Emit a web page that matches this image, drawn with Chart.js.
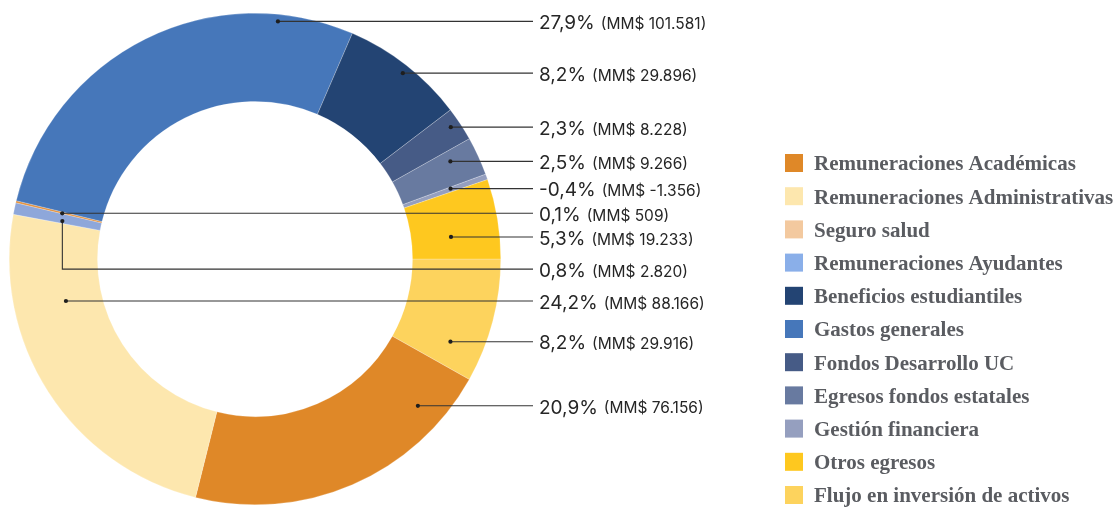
<!DOCTYPE html>
<html>
<head>
<meta charset="utf-8">
<script src="https://cdn.jsdelivr.net/npm/chart.js@4.4.1/dist/chart.umd.min.js"></script>
<style>
    html, body { margin: 0; padding: 0; background: #ffffff; }
    #wrap { position: relative; width: 1116px; height: 510px; }
</style>
</head>
<body>
<div id="wrap"><canvas id="egresos"></canvas></div>
<script>
// Egresos por categoría (MM$), in legend order
const categories = [
    "Remuneraciones Académicas",
    "Remuneraciones Administrativas",
    "Seguro salud",
    "Remuneraciones Ayudantes",
    "Beneficios estudiantiles",
    "Gastos generales",
    "Fondos Desarrollo UC",
    "Egresos fondos estatales",
    "Gestión financiera",
    "Otros egresos",
    "Flujo en inversión de activos"
];
const amounts = [76156, 88166, 509, 2820, 29896, 101581, 8228, 9266, -1356, 19233, 29916];
const shares = [20.9, 24.2, 0.1, 0.8, 8.2, 27.9, 2.3, 2.5, -0.4, 5.3, 8.2];

// slices go clockwise from 3 o'clock in this order
const ringOrder = [10, 0, 1, 3, 2, 5, 4, 6, 7, 8, 9];

const legendColors = ['#df8828', '#fde7ae', '#f3c99f', '#8aafe9', '#234473', '#4677ba',
                      '#465b86', '#687aa0', '#959fbf', '#fec81f', '#fdd35d'];
const sliceColors = ['#df8828', '#fde7ae', '#e3913e', '#8ea7da', '#234473', '#4677ba',
                     '#465b86', '#687aa0', '#959fbf', '#fec81f', '#fdd35d'];

// where each leader line starts inside its slice
// t: fraction along the arc, r: fraction across the ring, drop: elbow down before going right
const anchors = [
    { t: 0.17, r: 0.70 },
    { t: 0.734, r: 0.41 },
    { t: 0.2, r: 0.46 },
    { t: 0.24, r: 0.44, drop: 48 },
    { t: 0.517, r: 0.906 },
    { t: 0.821, r: 0.92 },
    { t: 0.42, r: 0.89 },
    { t: 0.30, r: 0.69 },
    { t: 0.3, r: 0.57 },
    { t: 0.66, r: 0.45 },
    { t: 0.782, r: 0.62 }
];

function fmtShare(v) {
    return v.toFixed(1).replace('.', ',') + '%';
}

function fmtAmount(v) {
    const s = Math.abs(v).toString().replace(/\B(?=(\d{3})+(?!\d))/g, '.');
    return '(MM$ ' + (v < 0 ? '-' : '') + s + ')';
}

const labelLines = {
    id: 'labelLines',
    afterDraw(chart) {
        const ctx = chart.ctx;
        const meta = chart.getDatasetMeta(0);
        const lineEnd = 533;
        const textX = 539;

        ctx.save();
        ringOrder.forEach((cat, k) => {
            const arc = meta.data[k];
            const p = arc.getProps(['x', 'y', 'startAngle', 'endAngle', 'innerRadius', 'outerRadius'], true);
            const a = anchors[cat];
            const ang = p.startAngle + (p.endAngle - p.startAngle) * a.t;
            const rad = p.innerRadius + (p.outerRadius - p.innerRadius) * a.r;
            const px = p.x + Math.cos(ang) * rad;
            const py = p.y + Math.sin(ang) * rad;
            const ly = py + (a.drop || 0);

            ctx.strokeStyle = '#333333';
            ctx.lineWidth = 1.1;
            ctx.beginPath();
            ctx.moveTo(px, py);
            if (a.drop) ctx.lineTo(px, ly);
            ctx.lineTo(lineEnd, ly);
            ctx.stroke();

            ctx.fillStyle = '#1e1e1e';
            ctx.beginPath();
            ctx.arc(px, py, 2.1, 0, Math.PI * 2);
            ctx.fill();

            ctx.textBaseline = 'middle';
            ctx.textAlign = 'left';
            ctx.fillStyle = '#262626';
            ctx.font = '400 19px Inter';
            const pct = fmtShare(shares[cat]);
            ctx.fillText(pct, textX, ly + 2);
            const w = ctx.measureText(pct).width;
            ctx.font = '400 15.5px Inter';
            ctx.fillText(fmtAmount(amounts[cat]), textX + w + 6, ly + 3);
        });

        // legend
        categories.forEach((name, i) => {
            const y = 163 + i * 33.2;
            ctx.fillStyle = legendColors[i];
            ctx.fillRect(785, y - 9, 18, 18);
            ctx.fillStyle = '#5a5c61';
            ctx.font = 'bold 21px "Liberation Serif"';
            ctx.textBaseline = 'middle';
            ctx.fillText(name, 814, y + 2);
        });
        ctx.restore();
    }
};

new Chart(document.getElementById('egresos'), {
    type: 'doughnut',
    data: {
        labels: ringOrder.map(i => categories[i]),
        datasets: [{
            data: ringOrder.map(i => Math.abs(amounts[i])),
            backgroundColor: ringOrder.map(i => sliceColors[i]),
            borderWidth: 0.5,
            borderColor: 'rgba(255,255,255,0.45)'
        }]
    },
    options: {
        responsive: true,
        maintainAspectRatio: false,
        animation: false,
        rotation: 90,
        cutout: '64.1%',
        layout: { padding: { left: 9, top: 13, right: 615, bottom: 5 } },
        plugins: {
            legend: { display: false },
            tooltip: { enabled: false }
        }
    },
    plugins: [labelLines]
});
</script>
</body>
</html>
